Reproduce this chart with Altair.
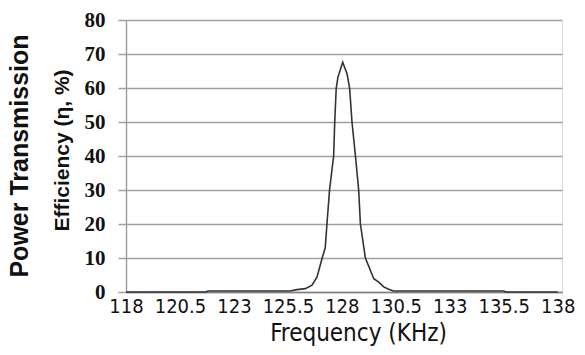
import altair as alt
import pandas as pd

freq = [118, 121.7, 121.8, 125.6, 125.92, 126.31, 126.62, 126.85, 127.08, 127.23,
        127.31, 127.43, 127.62, 127.67, 127.74, 127.82, 128.04, 128.24, 128.36,
        128.47, 128.63, 128.78, 128.86, 129.09, 129.32, 129.48, 129.71, 129.94,
        130.17, 130.39, 135.5, 135.6, 138]
eff = [0, 0, 0.3, 0.3, 0.7, 1.0, 2.0, 4.4, 9.8, 13, 20, 30, 40, 50, 60, 63.2,
       67.6, 64.2, 60, 50, 40, 30, 20, 10, 6.4, 3.9, 2.9, 1.5, 0.8, 0.3, 0.3, 0, 0]
x_ticks = [118, 120.5, 123, 125.5, 128, 130.5, 133, 135.5, 138]
y_ticks = [0, 10, 20, 30, 40, 50, 60, 70, 80]

df = pd.DataFrame({"freq": freq, "eff": eff})

sans_narrow = "DejaVu Sans Condensed, Liberation Sans, sans-serif"

chart = alt.Chart(df).mark_line(color="#333333", strokeWidth=1.6).encode(
    x=alt.X("freq:Q",
            scale=alt.Scale(domain=[118, 138.2], nice=False, zero=False),
            axis=alt.Axis(values=x_ticks, format=".1~f", title="Frequency (KHz)",
                          grid=False, ticks=False, domain=True,
                          domainColor="#808080", domainWidth=1.5,
                          labelFont=sans_narrow, labelFontSize=20,
                          labelColor="#111111", labelPadding=4,
                          labelFlush=False, labelOverlap=False,
                          titleFont=sans_narrow, titleFontSize=24,
                          titleFontWeight="normal", titleColor="#111111",
                          titleX=232, titleY=29, titleAlign="center",
                          titleBaseline="top")),
    y=alt.Y("eff:Q",
            scale=alt.Scale(domain=[0, 80], nice=False),
            axis=alt.Axis(values=y_ticks, title="Efficiency (η, %)",
                          grid=True, gridColor="#a0a0a0", gridWidth=1.6,
                          ticks=True, tickSize=8, tickColor="#a0a0a0", tickWidth=1.5,
                          domain=True, domainColor="#a0a0a0", domainWidth=1.5,
                          labelFont="Liberation Serif", labelFontSize=21,
                          labelFontWeight="bold", labelColor="#111111",
                          labelPadding=13,
                          titleFont="Liberation Sans", titleFontSize=21,
                          titleFontWeight="bold", titleColor="#111111",
                          titleX=-64, titleY=130, titleAngle=-90,
                          titleAlign="center", titleBaseline="middle")),
).properties(
    width=436,
    height=272,
    title=alt.TitleParams("Power Transmission", orient="left", anchor="middle",
                          frame="group",
                          font="Liberation Sans", fontSize=25, fontWeight="bold",
                          color="#111111", offset=18),
    autosize=alt.AutoSizeParams(type="none"),
    padding={"left": 126, "top": 20, "right": 23, "bottom": 63},
).configure_view(stroke=None).configure(background="white")

chart.save("out.html", embed_options={"renderer": "svg", "actions": False})
